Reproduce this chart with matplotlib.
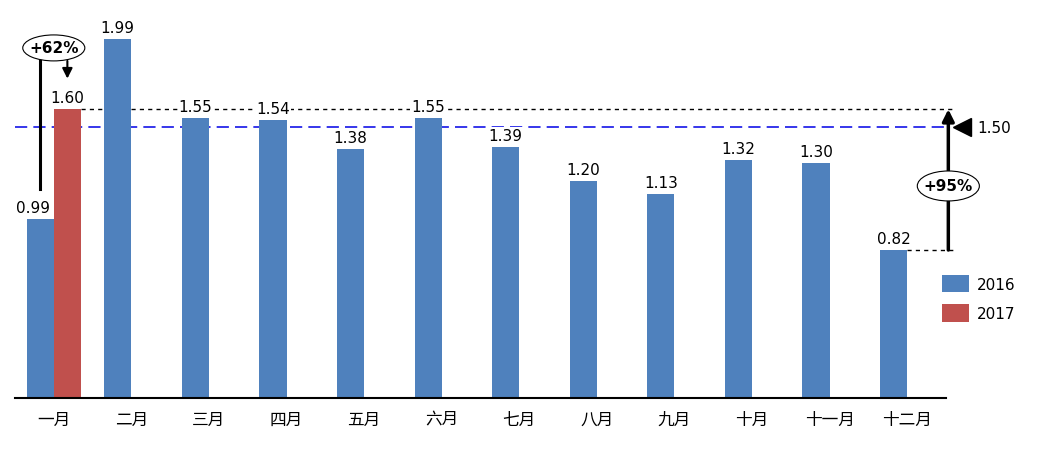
import matplotlib
matplotlib.use("Agg")
import matplotlib.pyplot as plt
from matplotlib.patches import Ellipse
import numpy as np

plt.rcParams['font.family'] = ['DejaVu Sans']

months = ["一月", "二月", "三月", "四月", "五月", "六月",
          "七月", "八月", "九月", "十月", "十一月", "十二月"]
sales_2016 = [0.99, 1.99, 1.55, 1.54, 1.38, 1.55, 1.39, 1.20, 1.13, 1.32, 1.30, 0.82]
sales_2017 = [1.60]
target = 1.50
growth_jan = "+62%"
growth_dec = "+95%"

BLUE = "#4F81BD"
RED = "#C0504D"

fig = plt.figure(figsize=(10.38, 4.56), dpi=100)
ax = fig.add_axes([15 / 1038, 57 / 456, 931 / 1038, 397 / 456])

x = np.arange(len(months))
w = 0.35
b16 = ax.bar(x - w / 2, sales_2016, width=w, color=BLUE, label="2016", zorder=2)
b17 = ax.bar(x[:len(sales_2017)] + w / 2, sales_2017, width=w, color=RED, label="2017", zorder=2)

# value labels sit on a white box so the guide lines pass behind them;
# a 2016 label next to a 2017 bar is nudged left to stay clear of it
for bars, paired in ((b16, len(sales_2017)), (b17, 0)):
    for i, r in enumerate(bars):
        dx = -5 if i < paired else 0
        ax.annotate(f"{r.get_height():.2f}", (r.get_x() + r.get_width() / 2, r.get_height()),
                    xytext=(dx, 3), textcoords="offset points", ha="center", va="bottom",
                    fontsize=11, zorder=3,
                    bbox=dict(boxstyle="square,pad=0.05", facecolor="white", edgecolor="none"))

ax.set_xlim(-0.5, 11.5)
ax.set_ylim(0, 2.2)
ax.set_xticks(x)
ax.set_xticklabels(months, fontsize=12, family=['Noto Sans CJK SC', 'DejaVu Sans'])
ax.tick_params(axis='x', length=0, pad=9)
ax.set_yticks([])
for s in ("left", "right", "top"):
    ax.spines[s].set_visible(False)
ax.spines["bottom"].set_linewidth(1.5)

# target line
ax.plot([-0.5, 11.53], [target, target], ls=(0, (8, 4)), color="#0000E6", lw=1.1,
        clip_on=False, zorder=1)

# reference lines for the right-hand arrow
ax.plot([w, 11.62], [sales_2017[0]] * 2, ls=(0, (3, 3)), color="black", lw=1,
        clip_on=False, zorder=1)
ax.plot([11.0, 11.62], [sales_2016[-1]] * 2, ls=(0, (3, 3)), color="black", lw=1,
        clip_on=False, zorder=1)

# right arrow from December level to January 2017 level
xa = 11.53
ax.annotate("", xy=(xa, sales_2017[0]), xytext=(xa, sales_2016[-1]),
            arrowprops=dict(arrowstyle="-|>,head_width=0.35,head_length=0.7", color="black", lw=2.5,
                            shrinkA=0, shrinkB=0), annotation_clip=False)
yc = 1.175
ax.add_patch(Ellipse((xa, yc), 0.8, 0.166, facecolor="white", edgecolor="black", lw=0.8,
                     clip_on=False, zorder=5))
ax.text(xa, yc, growth_dec, ha="center", va="center", fontsize=11, fontweight="bold",
        zorder=6, clip_on=False)

# target marker and label
ax.plot([11.71], [target], marker="<", ms=13, color="black", clip_on=False)
ax.text(11.91, target, f"{target:.2f}", ha="left", va="center", fontsize=11, clip_on=False)

# left annotation: Jan 2016 vs Jan 2017
ye = 1.94
ax.plot([-w / 2, -w / 2], [1.16, ye], color="black", lw=2.2, clip_on=False)
ax.add_patch(Ellipse((0.0, ye), 0.8, 0.144, facecolor="white", edgecolor="black", lw=0.8,
                     clip_on=False, zorder=5))
ax.text(0.0, ye, growth_jan, ha="center", va="center", fontsize=11, fontweight="bold",
        zorder=6, clip_on=False)
ax.annotate("", xy=(w / 2, 1.77), xytext=(w / 2, ye - 0.072),
            arrowprops=dict(arrowstyle="-|>,head_width=0.3,head_length=0.6", color="black", lw=1.5,
                            shrinkA=0, shrinkB=0), annotation_clip=False)

fig.legend(handles=[b16, b17], loc="upper left", bbox_to_anchor=(928 / 1038, 1 - 262 / 456),
           frameon=False, fontsize=11, handlelength=1.8, handleheight=1.4,
           handletextpad=0.5, labelspacing=0.75)

fig.savefig("out.png", dpi=100)
